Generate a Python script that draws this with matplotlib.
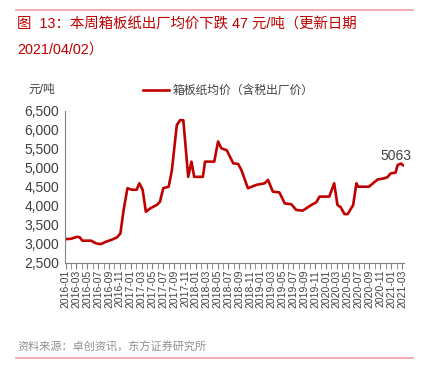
import matplotlib
matplotlib.use("Agg")
import matplotlib.pyplot as plt
from matplotlib.lines import Line2D

plt.rcParams['font.family'] = ['Liberation Sans', 'Noto Sans CJK SC', 'DejaVu Sans']

# months since 2016-01
months = [0, 1, 2.1, 2.6, 3.1, 4.7, 5.6, 6.5, 7.4, 8.6, 9.5, 10.1, 10.7, 11.4, 12.2,
          13.1, 13.6, 14.2, 14.8, 15.6, 16.8, 17.4, 18.0, 19.0, 19.6, 20.2, 20.5,
          21.1, 21.7, 22.6, 23.2, 23.7, 25.3, 25.7, 27.4, 28.1, 28.7, 29.7, 30.9,
          31.8, 32.4, 33.6, 35.2, 36.7, 37.3, 38.2, 39.4, 40.4, 41.6, 42.5, 43.7,
          45.3, 46.2, 46.8, 48.6, 49.5, 50.1, 50.7, 51.4, 52.0, 53.0, 53.6, 53.9,
          55.9, 57.5, 58.7, 59.3, 59.9, 60.8, 61.2, 61.8, 62.2]
prices = [3120, 3130, 3180, 3170, 3080, 3080, 3010, 2990, 3050, 3110, 3170, 3270, 3885,
          4460, 4420, 4420, 4590, 4420, 3840, 3930, 4020, 4105, 4460, 4500, 4940, 5730,
          6120, 6250, 6250, 4760, 5160, 4760, 4760, 5160, 5160, 5690, 5510, 5460, 5115,
          5100, 4940, 4460, 4550, 4590, 4680, 4370, 4350, 4060, 4040, 3890, 3870, 4020,
          4090, 4240, 4240, 4590, 4020, 3960, 3780, 3780, 4020, 4590, 4500, 4500, 4690,
          4720, 4750, 4850, 4870, 5070, 5110, 5063]

tick_months = list(range(0, 63, 2))
tick_labels = [f"{2016 + m // 12}-{m % 12 + 1:02d}" for m in tick_months]

red = "#C00000"
grey = "#404040"

fig = plt.figure(figsize=(4.25, 3.69), dpi=100)
ax = fig.add_axes([0.153, 0.288, 0.798, 0.412])

ax.plot(months, prices, color=red, linewidth=1.9)
ax.set_xlim(-0.1, 62.4)
ax.set_ylim(2500, 6500)
ax.set_yticks(range(2500, 6501, 500))
ax.set_yticklabels([f"{v:,}" for v in range(2500, 6501, 500)], fontsize=10, color=grey)
ax.set_xticks(tick_months)
ax.set_xticks(range(0, 63), minor=True)
ax.set_xticklabels(tick_labels, rotation=90, fontsize=7.5, color=grey)
ax.tick_params(axis='x', which='both', length=4, color="#808080", pad=1)
ax.tick_params(axis='y', length=0, pad=4)
for s in ['top', 'right']:
    ax.spines[s].set_visible(False)
ax.spines['left'].set_color("#808080")
ax.spines['bottom'].set_color("#808080")

ax.annotate("5063", xy=(months[-1], prices[-1]), xytext=(-16, 4), textcoords="offset points",
            fontsize=10, color=grey)

leg = ax.legend(handles=[Line2D([], [], color=red, linewidth=1.9)],
                labels=["箱板纸均价（含税出厂价）"], loc="lower left",
                bbox_to_anchor=(0.2, 1.02), frameon=False, fontsize=8.5,
                handlelength=2.2, handletextpad=0.3, labelcolor=grey)

fig.text(28 / 425, 1 - 90 / 369, "元/吨", fontsize=8.5, color=grey, va="center")

fig.text(17 / 425, 1 - 25 / 369, "图  13：本周箱板纸出厂均价下跌 47 元/吨（更新日期",
         fontsize=10.4, color=red, va="center")
fig.text(17 / 425, 1 - 50 / 369, "2021/04/02）", fontsize=10.4, color=red, va="center")
fig.text(17 / 425, 1 - 347 / 369, "资料来源：卓创资讯，东方证券研究所", fontsize=8,
         color="#909090", va="center")

fig.add_artist(Line2D([16 / 425, 413 / 425], [1 - 10 / 369] * 2, color="#F0A0A0", linewidth=1.2))
fig.add_artist(Line2D([16 / 425, 413 / 425], [1 - 358 / 369] * 2, color="#F0A0A0", linewidth=1.2))

fig.savefig("out.png", dpi=100)
